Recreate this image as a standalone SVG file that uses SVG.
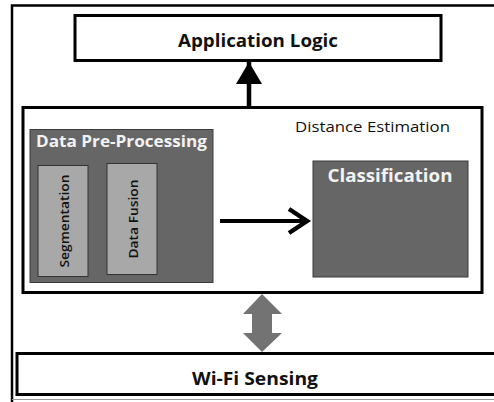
<svg xmlns="http://www.w3.org/2000/svg" width="494" height="402" viewBox="0 0 494 402">
  <style>
    .frame { fill: #ffffff; stroke: #000000; stroke-width: 3; }
    .dark { fill: #666666; stroke: #3a3a3a; stroke-width: 1; }
    .light { fill: #a8a8a8; stroke: #333333; stroke-width: 1; }
    .title { font-family: "Open Sans", "Liberation Sans", sans-serif; font-weight: bold; font-size: 17px; fill: #111111; }
    .white { font-family: "Open Sans", "Liberation Sans", sans-serif; font-weight: bold; fill: #f2f2f2; }
    .plain { font-family: "Open Sans", "Liberation Sans", sans-serif; font-size: 15px; fill: #111111; }
    .small { font-family: "Open Sans", "Liberation Sans", sans-serif; font-size: 13px; font-weight: 600; fill: #111111; }
  </style>
  <defs>
    <marker id="solidHead" markerUnits="userSpaceOnUse" markerWidth="28" markerHeight="28" refX="22" refY="13" orient="auto">
      <path d="M0,0 L22,13 L0,26 Z" fill="#000000"/>
    </marker>
    <marker id="openHead" markerUnits="userSpaceOnUse" markerWidth="26" markerHeight="30" refX="21" refY="14" orient="auto">
      <path d="M3,2 L21,14 L3,26" fill="none" stroke="#000000" stroke-width="4.5" stroke-linejoin="miter"/>
    </marker>
  </defs>

  <rect width="494" height="402" fill="#ffffff"/>

  <!-- outer frame (runs off the right edge) -->
  <g id="outer">
    <path d="M12,402 L12,5.5 L500,5.5" fill="none" stroke="#000000" stroke-width="2.5"/>
    <line x1="12" y1="399.5" x2="494" y2="399.5" stroke="#999999" stroke-width="1"/>
  </g>

  <g id="application-logic">
    <rect class="frame" x="75" y="15.5" width="366" height="45"/>
    <text class="title" x="258" y="47" text-anchor="middle" textLength="160" lengthAdjust="spacingAndGlyphs">Application Logic</text>
  </g>

  <g id="distance-estimation">
    <rect class="frame" x="23" y="107.5" width="459" height="185"/>
    <text class="plain" x="295" y="132" textLength="155" lengthAdjust="spacingAndGlyphs">Distance Estimation</text>
  </g>

  <g id="data-pre-processing">
    <rect class="dark" x="30" y="129.5" width="183" height="153"/>
    <text class="white" x="36" y="147" font-size="16" textLength="171" lengthAdjust="spacingAndGlyphs">Data Pre-Processing</text>
  </g>

  <g id="segmentation">
    <rect class="light" x="38" y="165.5" width="50" height="111"/>
    <text class="small" transform="translate(69,221) rotate(-90)" text-anchor="middle" textLength="93" lengthAdjust="spacingAndGlyphs">Segmentation</text>
  </g>

  <g id="data-fusion">
    <rect class="light" x="107" y="163.5" width="50" height="111"/>
    <text class="small" transform="translate(138,219) rotate(-90)" text-anchor="middle" textLength="79" lengthAdjust="spacingAndGlyphs">Data Fusion</text>
  </g>

  <g id="classification">
    <rect class="dark" x="313" y="161" width="155" height="116"/>
    <text class="white" x="390" y="182" font-size="18" text-anchor="middle" textLength="125" lengthAdjust="spacingAndGlyphs">Classification</text>
  </g>

  <g id="wifi-sensing">
    <rect class="frame" x="17" y="353.5" width="480" height="41"/>
    <text class="title" x="255" y="385" text-anchor="middle" textLength="126" lengthAdjust="spacingAndGlyphs">Wi-Fi Sensing</text>
  </g>

  <g id="connectors">
    <!-- Distance Estimation to Application Logic -->
    <line x1="249" y1="107" x2="249" y2="62" stroke="#000000" stroke-width="4.5" marker-end="url(#solidHead)"/>
    <!-- Data Pre-Processing to Classification -->
    <line x1="220" y1="221" x2="307" y2="221" stroke="#000000" stroke-width="4" marker-end="url(#openHead)"/>
    <!-- two-way link between Wi-Fi Sensing and Distance Estimation -->
    <path d="M262,294 L282,314 L272,314 L272,333 L282,333 L262,352 L243,333 L252,333 L252,314 L243,314 Z" fill="#737373"/>
  </g>
</svg>
